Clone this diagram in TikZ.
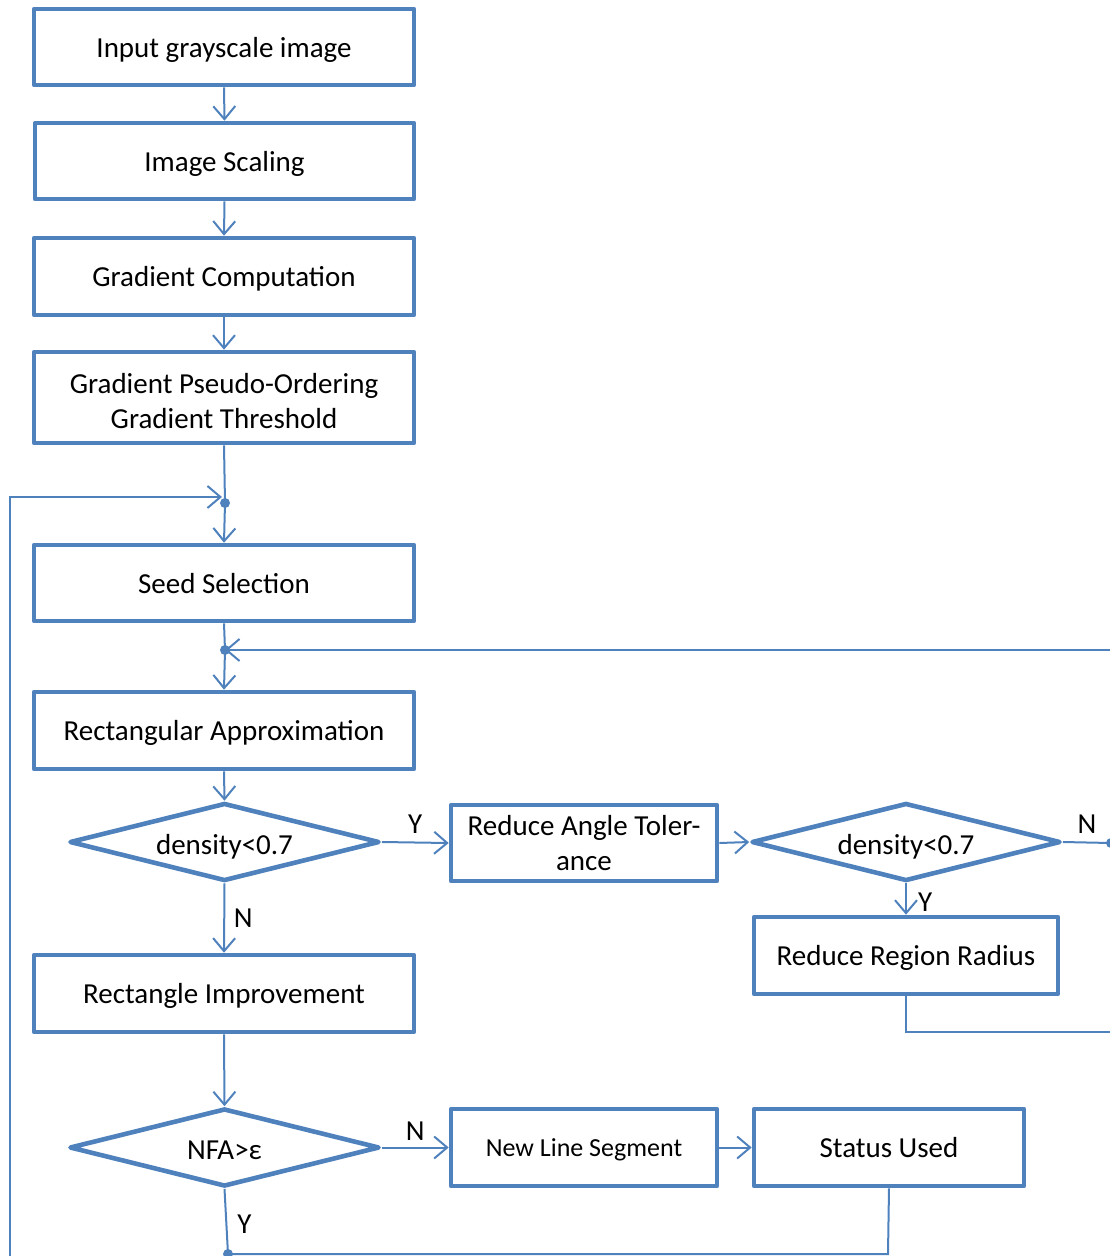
\documentclass[tikz,border=0pt]{standalone}
\usepackage{fontspec}
\setmainfont{Carlito}
\usetikzlibrary{arrows.meta,shapes.geometric}
\definecolor{fblue}{HTML}{4F81BD}
\begin{document}
\begin{tikzpicture}[x=1pt,y=-1pt,
  font=\fontsize{29}{35}\selectfont,
  stepbox/.style={draw=fblue,line width=4.6pt,line join=round,rectangle,inner sep=0pt,align=center},
  onel/.style={text depth=0pt},
  decbox/.style={draw=fblue,line width=4.6pt,line join=round,diamond,aspect=4,inner sep=0pt,minimum width=310pt,minimum height=78pt,text height=24pt,text depth=0pt},
  wire/.style={draw=fblue,line width=2pt},
  conn/.style={wire,-{Straight Barb[length=13pt,width=22pt]}},
  jdot/.style={fill=fblue,circle,inner sep=0pt,minimum size=10pt},
  lbl/.style={inner sep=8pt,text=black}]
\clip (0,0) rectangle (1110,1256);
\node[stepbox,onel,minimum width=380pt,minimum height=76pt] (b1) at (224,47) {Input grayscale image};
\node[stepbox,onel,minimum width=379pt,minimum height=76pt] (b2) at (224.5,161) {Image Scaling};
\node[stepbox,onel,minimum width=380pt,minimum height=77pt] (b3) at (224,276.5) {Gradient Computation};
\node[stepbox,minimum width=380pt,minimum height=91pt] (b4) at (224,397.5) {\rule{0pt}{31pt}Gradient Pseudo-Ordering\\Gradient Threshold\rule[-5pt]{0pt}{5pt}};
\node[stepbox,onel,minimum width=380pt,minimum height=76pt] (b5) at (224,583) {Seed Selection};
\node[stepbox,onel,minimum width=380pt,minimum height=77pt] (b6) at (224,730.5) {Rectangular Approximation};
\node[decbox] (d1) at (224.5,842) {density<0.7};
\node[stepbox,minimum width=266pt,minimum height=76pt] (b7) at (584,843) {Reduce Angle Toler-\\ance};
\node[decbox,minimum width=309pt] (d2) at (906,842) {density<0.7};
\node[stepbox,onel,minimum width=304pt,minimum height=77pt] (b8) at (906,955.5) {Reduce Region Radius};
\node[stepbox,onel,minimum width=380pt,minimum height=77pt] (b9) at (224,993.5) {Rectangle Improvement};
\node[decbox] (d3) at (224.5,1147.5) {NFA>ε};
\node[stepbox,onel,minimum width=266pt,minimum height=77pt,font=\fontsize{26}{32}\selectfont] (b10) at (584,1147.5) {New Line Segment};
\node[stepbox,onel,minimum width=270pt,minimum height=77pt] (b11) at (889,1147.5) {Status Used};
% junctions and free ends
\node[jdot] (j1) at (225,503) {};
\node[jdot] (j2) at (225,650) {};
\node[jdot] (j3) at (228,1254) {};
\node[jdot] (rN) at (1111,843) {};
\coordinate (lp) at (10,1262);
\coordinate (lq) at (10,497);
\coordinate (ja) at (222,497);
\coordinate (rA) at (1115,650);
\coordinate (rB) at (1115,1032);
\coordinate (rC) at (906,1032);
\coordinate (bl) at (888,1254);
% connectors
\draw[conn] (b1.south) -- (b2.north);
\draw[conn] (b2.south) -- (b3.north);
\draw[conn] (b3.south) -- (b4.north);
\draw[wire] (b4.south) -- (j1.center);
\draw[conn] (j1.center) -- (b5.north);
\draw[conn] (lp) -- (lq) -- (ja);
\draw[wire] (b5.south) -- (j2.center);
\draw[conn] (rA) -- (j2.center);
\draw[conn] (j2.center) -- (b6.north);
\draw[conn] (b6.south) -- (d1.north);
\draw[conn] (d1.east) -- node[lbl,above] {Y} (b7.west);
\draw[conn] (b7.east) -- (d2.west);
\draw[wire] (d2.east) -- node[lbl,above] {N} (rN.center);
\draw[conn] (d2.south) -- node[lbl,right,pos=0.6,inner sep=11pt] {Y} (b8.north);
\draw[wire] (b8.south) -- (rC) -- (rB);
\draw[conn] (d1.south) -- node[lbl,right,inner sep=8.5pt] {N} (b9.north);
\draw[conn] (b9.south) -- (d3.north);
\draw[conn] (d3.east) -- node[lbl,above,inner sep=6pt] {N} (b10.west);
\draw[conn] (b10.east) -- (b11.west);
\draw[wire] (d3.south) -- node[lbl,right,pos=0.55,inner sep=10pt] {Y} (j3.center);
\draw[wire] (b11.south) -- (bl) -- (j3.center);
\end{tikzpicture}
\end{document}
